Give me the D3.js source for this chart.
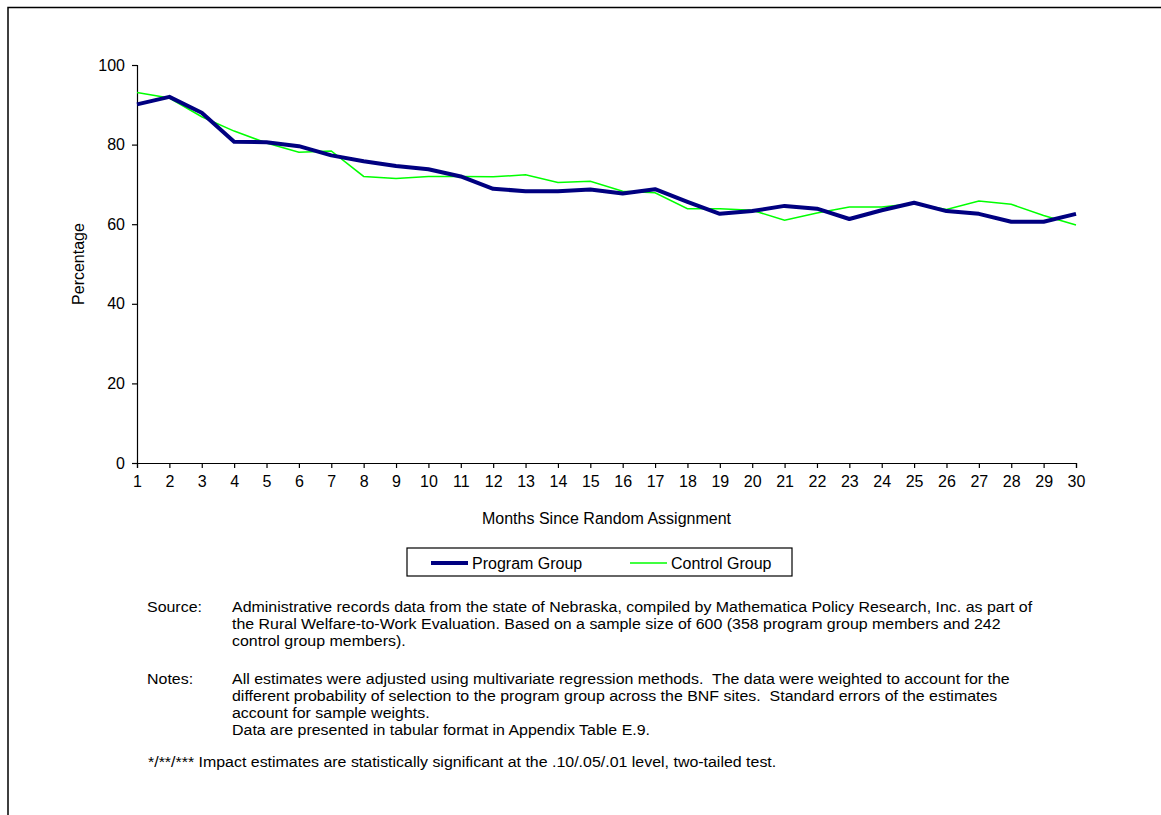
<!DOCTYPE html>
<html>
<head>
<meta charset="utf-8">
<script src="https://cdn.jsdelivr.net/npm/d3@7"></script>
<style>
    body { margin: 0; background: #fff; }
    svg { display: block; font-family: "Liberation Sans", Arial, sans-serif; }
    text { white-space: pre; }
</style>
</head>
<body>
<div id="chart"></div>
<script>
    const months = d3.range(1, 31);
    const programGroup = [90.1, 92.0, 88.0, 80.7, 80.6, 79.6, 77.3, 75.8, 74.6, 73.8,
        72.0, 68.9, 68.3, 68.3, 68.7, 67.7, 68.8, 65.6, 62.6, 63.3,
        64.6, 63.9, 61.3, 63.5, 65.4, 63.3, 62.6, 60.6, 60.6, 62.6];
    const controlGroup = [93.1, 91.7, 87.0, 83.4, 80.4, 78.1, 78.4, 72.0, 71.5, 72.0,
        72.0, 71.9, 72.4, 70.5, 70.8, 68.3, 67.9, 63.9, 63.9, 63.5,
        61.0, 62.8, 64.3, 64.3, 65.2, 63.7, 65.8, 65.0, 62.2, 59.8];
    const yTicks = [0, 20, 40, 60, 80, 100];
    const seriesNames = ["Program Group", "Control Group"];

    const sourceLines = [
        "Administrative records data from the state of Nebraska, compiled by Mathematica Policy Research, Inc. as part of",
        "the Rural Welfare-to-Work Evaluation. Based on a sample size of 600 (358 program group members and 242",
        "control group members)."
    ];
    const notesLines = [
        "All estimates were adjusted using multivariate regression methods.  The data were weighted to account for the",
        "different probability of selection to the program group across the BNF sites.  Standard errors of the estimates",
        "account for sample weights.",
        "Data are presented in tabular format in Appendix Table E.9."
    ];
    const footnote = "*/**/*** Impact estimates are statistically significant at the .10/.05/.01 level, two-tailed test.";

    const width = 1161;
    const height = 815;
    const marginLeft = 137;
    const marginRight = 85;
    const marginTop = 65;
    const plotBottom = 463;
    const fontSize = "16px";

    const svg = d3.select("#chart")
        .append("svg")
        .attr("width", width)
        .attr("height", height);

    // outer frame (runs off the right and bottom of the page)
    svg.append("rect")
        .attr("x", 8)
        .attr("y", 7.5)
        .attr("width", width)
        .attr("height", height)
        .attr("fill", "none")
        .attr("stroke", "#000")
        .attr("stroke-width", 1.5);

    const x = d3.scaleLinear()
        .domain([1, 30])
        .range([marginLeft, width - marginRight]);

    const y = d3.scaleLinear()
        .domain([0, 100])
        .range([plotBottom, marginTop]);

    // x axis
    svg.append("g")
        .attr("transform", `translate(0,${plotBottom})`)
        .call(d3.axisBottom(x).tickValues(months).tickFormat(d3.format("d")).tickSize(5).tickPadding(8))
        .call((g) => g.selectAll("path, line").attr("stroke", "#000").attr("stroke-width", 1.2))
        .call((g) => g.selectAll("text").style("font-size", fontSize).attr("fill", "#000"));

    // y axis
    svg.append("g")
        .attr("transform", `translate(${marginLeft},0)`)
        .call(d3.axisLeft(y).tickValues(yTicks).tickSize(5).tickPadding(7))
        .call((g) => g.selectAll("path, line").attr("stroke", "#000").attr("stroke-width", 1.2))
        .call((g) => g.selectAll("text").style("font-size", fontSize).attr("fill", "#000"));

    // axis titles
    svg.append("text")
        .attr("x", (marginLeft + width - marginRight) / 2)
        .attr("y", 524)
        .attr("text-anchor", "middle")
        .style("font-size", fontSize)
        .text("Months Since Random Assignment");

    svg.append("text")
        .attr("transform", `translate(84,${(marginTop + plotBottom) / 2}) rotate(-90)`)
        .attr("text-anchor", "middle")
        .style("font-size", fontSize)
        .text("Percentage");

    // lines
    const line = d3.line()
        .x((d, i) => x(months[i]))
        .y((d) => y(d));

    svg.append("path")
        .datum(controlGroup)
        .attr("fill", "none")
        .attr("stroke", "#00ff00")
        .attr("stroke-width", 1.5)
        .attr("d", line);

    svg.append("path")
        .datum(programGroup)
        .attr("fill", "none")
        .attr("stroke", "#000080")
        .attr("stroke-width", 4)
        .attr("stroke-linejoin", "round")
        .attr("d", line);

    // legend
    const legend = svg.append("g").attr("transform", "translate(407,548)");
    legend.append("rect")
        .attr("x", 0)
        .attr("y", 0)
        .attr("width", 385)
        .attr("height", 28)
        .attr("fill", "#fff")
        .attr("stroke", "#000")
        .attr("stroke-width", 1.2);

    const legendItems = [
        { name: seriesNames[0], color: "#000080", w: 4, x: 24 },
        { name: seriesNames[1], color: "#00ff00", w: 1.5, x: 223 }
    ];
    legendItems.forEach((d) => {
        legend.append("line")
            .attr("x1", d.x)
            .attr("x2", d.x + 37)
            .attr("y1", 15)
            .attr("y2", 15)
            .attr("stroke", d.color)
            .attr("stroke-width", d.w);
        legend.append("text")
            .attr("x", d.x + 41)
            .attr("y", 20.5)
            .style("font-size", fontSize)
            .text(d.name);
    });

    // notes: the source text is set a little wide, so stretch it horizontally
    const notes = svg.append("g").style("font-size", "14.5px");
    const lineGap = 17;
    const stretch = 1.1;

    function noteText(tx, ty, str) {
        notes.append("text")
            .attr("transform", `translate(${tx},${ty}) scale(${stretch},1)`)
            .text(str);
    }

    noteText(147, 612, "Source:");
    sourceLines.forEach((t, i) => noteText(232, 612 + i * lineGap, t));

    noteText(147, 684, "Notes:");
    notesLines.forEach((t, i) => noteText(232, 684 + i * lineGap, t));

    noteText(148, 767, footnote);
</script>
</body>
</html>
